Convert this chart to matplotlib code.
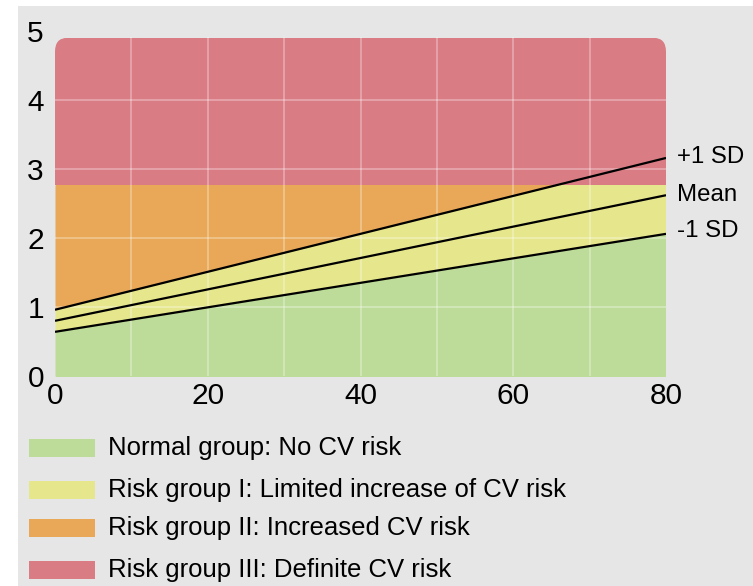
import matplotlib
matplotlib.use("Agg")
import matplotlib.pyplot as plt
import numpy as np
from matplotlib.patches import FancyBboxPatch, Rectangle

plt.rcParams['font.family'] = ['Liberation Sans', 'DejaVu Sans']

# Data
age = [0, 80]
plus_sd = [0.96, 3.16]
mean = [0.80, 2.62]
minus_sd = [0.64, 2.06]
risk_threshold = 2.77
top_limit = 4.9
line_labels = ["+1 SD", "Mean", "-1 SD"]
label_pos = [3.18, 2.63, 2.10]
x_ticks = [0, 20, 40, 60, 80]
y_ticks = [0, 1, 2, 3, 4, 5]
legend_labels = ["Normal group: No CV risk",
                 "Risk group I: Limited increase of CV risk",
                 "Risk group II: Increased CV risk",
                 "Risk group III: Definite CV risk"]
colors = ["#bddc9a", "#e6e68c", "#e8a857", "#d97c84"]
bg = "#e6e6e6"

W, H = 753, 586
fig = plt.figure(figsize=(W / 100, H / 100), dpi=100, facecolor="white")
# gray background panel (white strips at top and left)
fig.patches.append(Rectangle((18 / W, 0), 1 - 18 / W, 1 - 6 / H,
                             transform=fig.transFigure, facecolor=bg,
                             edgecolor="none", zorder=-10))

ax = fig.add_axes([55 / W, (H - 376) / H, (666 - 55) / W, (376 - 31) / H])
ax.set_facecolor("none")
ax.set_xlim(0, 80)
ax.set_ylim(0, 5)

x = np.linspace(age[0], age[1], 200)
p = np.interp(x, age, plus_sd)
m = np.interp(x, age, mean)
n = np.interp(x, age, minus_sd)
cap = np.minimum(p, risk_threshold)

clip = FancyBboxPatch((0, -1), 80, top_limit + 1,
                      boxstyle="round,pad=0,rounding_size=1.6",
                      mutation_aspect=0.125,
                      transform=ax.transData, facecolor="none", edgecolor="none")
ax.add_patch(clip)

fills = []
fills.append(ax.fill_between(x, 0, n, color=colors[0], lw=0, zorder=1))
fills.append(ax.fill_between(x, n, cap, color=colors[1], lw=0, zorder=1))
fills.append(ax.fill_between(x, cap, risk_threshold, color=colors[2], lw=0, zorder=1))
fills.append(ax.fill_between(x, risk_threshold, top_limit, color=colors[3], lw=0, zorder=1))
for f in fills:
    f.set_clip_path(clip)

# grid
for gx in range(10, 80, 10):
    ax.plot([gx, gx], [0, top_limit], color="white", alpha=0.35, lw=1.2, zorder=2)
for gy in range(1, 5):
    ax.plot([0, 80], [gy, gy], color="white", alpha=0.35, lw=1.2, zorder=2)

for ys in (plus_sd, mean, minus_sd):
    ax.plot(age, ys, color="black", lw=1.6, zorder=3, solid_capstyle="butt")

for lab, yv in zip(line_labels, label_pos):
    ax.text(81.5, yv, lab, fontsize=17.3, va="center", ha="left", clip_on=False)

for s in ax.spines.values():
    s.set_visible(False)
ax.set_xticks(x_ticks)
ax.set_yticks(y_ticks)
ax.set_xticklabels([str(t) for t in x_ticks])
ax.set_yticklabels([str(t) for t in y_ticks])
ax.tick_params(length=0, labelsize=21.5)
ax.tick_params(axis="x", pad=4)
ax.tick_params(axis="y", pad=8)

# legend
rows = [448, 490, 528, 570]
for lab, c, yc in zip(legend_labels, colors, rows):
    fig.patches.append(Rectangle((29 / W, (H - yc - 9) / H), 66 / W, 18 / H,
                                 transform=fig.transFigure, facecolor=c,
                                 edgecolor="none"))
    fig.text(108 / W, (H - yc) / H, lab, fontsize=18.5, va="center", ha="left")

fig.savefig("out.png", dpi=100, facecolor="white")
